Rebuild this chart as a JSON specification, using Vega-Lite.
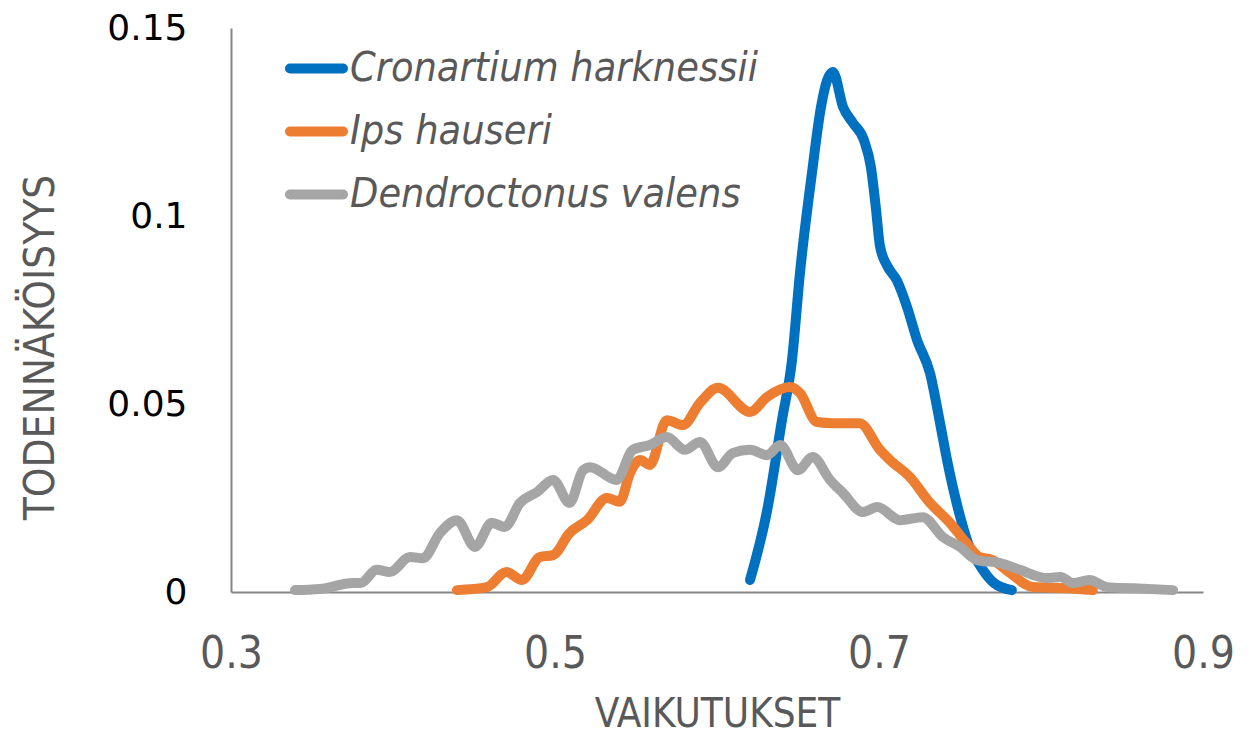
{
  "$schema": "https://vega.github.io/schema/vega-lite/v6.json",
  "autosize": {"type": "none"},
  "width": 972,
  "height": 564,
  "padding": {"left": 231, "top": 28, "right": 53, "bottom": 142},
  "background": "white",
  "config": {"view": {"stroke": null}},
  "data": {"values": [
    {"s": "Cronartium harknessii", "x": 0.6204, "y": 0.0032},
    {"s": "Cronartium harknessii", "x": 0.631, "y": 0.0218},
    {"s": "Cronartium harknessii", "x": 0.6401, "y": 0.0457},
    {"s": "Cronartium harknessii", "x": 0.6463, "y": 0.0617},
    {"s": "Cronartium harknessii", "x": 0.6512, "y": 0.0848},
    {"s": "Cronartium harknessii", "x": 0.6586, "y": 0.1114},
    {"s": "Cronartium harknessii", "x": 0.6642, "y": 0.129},
    {"s": "Cronartium harknessii", "x": 0.6679, "y": 0.136},
    {"s": "Cronartium harknessii", "x": 0.6716, "y": 0.1383},
    {"s": "Cronartium harknessii", "x": 0.6778, "y": 0.129},
    {"s": "Cronartium harknessii", "x": 0.684, "y": 0.1247},
    {"s": "Cronartium harknessii", "x": 0.6907, "y": 0.1202},
    {"s": "Cronartium harknessii", "x": 0.695, "y": 0.113},
    {"s": "Cronartium harknessii", "x": 0.698, "y": 0.1024},
    {"s": "Cronartium harknessii", "x": 0.7006, "y": 0.092},
    {"s": "Cronartium harknessii", "x": 0.705, "y": 0.0868},
    {"s": "Cronartium harknessii", "x": 0.7111, "y": 0.0828},
    {"s": "Cronartium harknessii", "x": 0.7173, "y": 0.0758},
    {"s": "Cronartium harknessii", "x": 0.7235, "y": 0.067},
    {"s": "Cronartium harknessii", "x": 0.7315, "y": 0.0582},
    {"s": "Cronartium harknessii", "x": 0.7377, "y": 0.0449},
    {"s": "Cronartium harknessii", "x": 0.742, "y": 0.0351},
    {"s": "Cronartium harknessii", "x": 0.749, "y": 0.0218},
    {"s": "Cronartium harknessii", "x": 0.755, "y": 0.013},
    {"s": "Cronartium harknessii", "x": 0.763, "y": 0.0066},
    {"s": "Cronartium harknessii", "x": 0.771, "y": 0.0024},
    {"s": "Cronartium harknessii", "x": 0.782, "y": 0.0005},

    {"s": "Ips hauseri", "x": 0.4395, "y": 0.0005},
    {"s": "Ips hauseri", "x": 0.458, "y": 0.0013},
    {"s": "Ips hauseri", "x": 0.470, "y": 0.0053},
    {"s": "Ips hauseri", "x": 0.4796, "y": 0.0032},
    {"s": "Ips hauseri", "x": 0.4907, "y": 0.0093},
    {"s": "Ips hauseri", "x": 0.4988, "y": 0.0098},
    {"s": "Ips hauseri", "x": 0.509, "y": 0.0157},
    {"s": "Ips hauseri", "x": 0.5198, "y": 0.0191},
    {"s": "Ips hauseri", "x": 0.532, "y": 0.025},
    {"s": "Ips hauseri", "x": 0.540, "y": 0.024},
    {"s": "Ips hauseri", "x": 0.5463, "y": 0.0316},
    {"s": "Ips hauseri", "x": 0.5525, "y": 0.0351},
    {"s": "Ips hauseri", "x": 0.5586, "y": 0.0338},
    {"s": "Ips hauseri", "x": 0.569, "y": 0.0457},
    {"s": "Ips hauseri", "x": 0.579, "y": 0.0444},
    {"s": "Ips hauseri", "x": 0.5895, "y": 0.0503},
    {"s": "Ips hauseri", "x": 0.6006, "y": 0.0543},
    {"s": "Ips hauseri", "x": 0.6204, "y": 0.0479},
    {"s": "Ips hauseri", "x": 0.631, "y": 0.0519},
    {"s": "Ips hauseri", "x": 0.645, "y": 0.0545},
    {"s": "Ips hauseri", "x": 0.6512, "y": 0.0529},
    {"s": "Ips hauseri", "x": 0.6617, "y": 0.0452},
    {"s": "Ips hauseri", "x": 0.6716, "y": 0.0449},
    {"s": "Ips hauseri", "x": 0.688, "y": 0.0449},
    {"s": "Ips hauseri", "x": 0.7006, "y": 0.0378},
    {"s": "Ips hauseri", "x": 0.7068, "y": 0.0351},
    {"s": "Ips hauseri", "x": 0.719, "y": 0.0306},
    {"s": "Ips hauseri", "x": 0.7315, "y": 0.0237},
    {"s": "Ips hauseri", "x": 0.7438, "y": 0.0184},
    {"s": "Ips hauseri", "x": 0.754, "y": 0.013},
    {"s": "Ips hauseri", "x": 0.762, "y": 0.0093},
    {"s": "Ips hauseri", "x": 0.770, "y": 0.0085},
    {"s": "Ips hauseri", "x": 0.781, "y": 0.005},
    {"s": "Ips hauseri", "x": 0.795, "y": 0.0013},
    {"s": "Ips hauseri", "x": 0.816, "y": 0.001},
    {"s": "Ips hauseri", "x": 0.832, "y": 0.0005},

    {"s": "Dendroctonus valens", "x": 0.3395, "y": 0.0005},
    {"s": "Dendroctonus valens", "x": 0.355, "y": 0.0008},
    {"s": "Dendroctonus valens", "x": 0.3753, "y": 0.0024},
    {"s": "Dendroctonus valens", "x": 0.380, "y": 0.0024},
    {"s": "Dendroctonus valens", "x": 0.390, "y": 0.0059},
    {"s": "Dendroctonus valens", "x": 0.398, "y": 0.0053},
    {"s": "Dendroctonus valens", "x": 0.4105, "y": 0.0093},
    {"s": "Dendroctonus valens", "x": 0.4185, "y": 0.009},
    {"s": "Dendroctonus valens", "x": 0.429, "y": 0.0157},
    {"s": "Dendroctonus valens", "x": 0.4395, "y": 0.0191},
    {"s": "Dendroctonus valens", "x": 0.4506, "y": 0.012},
    {"s": "Dendroctonus valens", "x": 0.461, "y": 0.0184},
    {"s": "Dendroctonus valens", "x": 0.469, "y": 0.0173},
    {"s": "Dendroctonus valens", "x": 0.4784, "y": 0.0237},
    {"s": "Dendroctonus valens", "x": 0.489, "y": 0.0266},
    {"s": "Dendroctonus valens", "x": 0.4988, "y": 0.0298},
    {"s": "Dendroctonus valens", "x": 0.509, "y": 0.0237},
    {"s": "Dendroctonus valens", "x": 0.5173, "y": 0.0324},
    {"s": "Dendroctonus valens", "x": 0.5216, "y": 0.0332},
    {"s": "Dendroctonus valens", "x": 0.538, "y": 0.0298},
    {"s": "Dendroctonus valens", "x": 0.548, "y": 0.0378},
    {"s": "Dendroctonus valens", "x": 0.5586, "y": 0.0391},
    {"s": "Dendroctonus valens", "x": 0.569, "y": 0.0412},
    {"s": "Dendroctonus valens", "x": 0.5802, "y": 0.0378},
    {"s": "Dendroctonus valens", "x": 0.5895, "y": 0.0399},
    {"s": "Dendroctonus valens", "x": 0.6006, "y": 0.0332},
    {"s": "Dendroctonus valens", "x": 0.6099, "y": 0.037},
    {"s": "Dendroctonus valens", "x": 0.6204, "y": 0.0378},
    {"s": "Dendroctonus valens", "x": 0.631, "y": 0.0364},
    {"s": "Dendroctonus valens", "x": 0.639, "y": 0.0391},
    {"s": "Dendroctonus valens", "x": 0.650, "y": 0.0324},
    {"s": "Dendroctonus valens", "x": 0.659, "y": 0.0359},
    {"s": "Dendroctonus valens", "x": 0.6698, "y": 0.0298},
    {"s": "Dendroctonus valens", "x": 0.6778, "y": 0.0263},
    {"s": "Dendroctonus valens", "x": 0.690, "y": 0.0213},
    {"s": "Dendroctonus valens", "x": 0.699, "y": 0.0226},
    {"s": "Dendroctonus valens", "x": 0.713, "y": 0.0191},
    {"s": "Dendroctonus valens", "x": 0.727, "y": 0.0199},
    {"s": "Dendroctonus valens", "x": 0.7395, "y": 0.0146},
    {"s": "Dendroctonus valens", "x": 0.750, "y": 0.012},
    {"s": "Dendroctonus valens", "x": 0.7605, "y": 0.0085},
    {"s": "Dendroctonus valens", "x": 0.7747, "y": 0.0077},
    {"s": "Dendroctonus valens", "x": 0.787, "y": 0.0059},
    {"s": "Dendroctonus valens", "x": 0.8037, "y": 0.0037},
    {"s": "Dendroctonus valens", "x": 0.812, "y": 0.004},
    {"s": "Dendroctonus valens", "x": 0.8198, "y": 0.0024},
    {"s": "Dendroctonus valens", "x": 0.830, "y": 0.0032},
    {"s": "Dendroctonus valens", "x": 0.8407, "y": 0.0013},
    {"s": "Dendroctonus valens", "x": 0.857, "y": 0.001},
    {"s": "Dendroctonus valens", "x": 0.8815, "y": 0.0005}
  ]},
  "mark": {"type": "line", "strokeWidth": 10, "strokeCap": "round", "strokeJoin": "round", "interpolate": "monotone"},
  "encoding": {
    "x": {
      "field": "x", "type": "quantitative",
      "scale": {"domain": [0.3, 0.9], "nice": false, "zero": false},
      "axis": {
        "title": "VAIKUTUKSET",
        "values": [0.3, 0.5, 0.7, 0.9],
        "format": ".1f",
        "grid": false, "ticks": false,
        "domainColor": "#868686", "domainWidth": 2,
        "labelFont": "Liberation Sans Narrow, DejaVu Sans Condensed, Roboto",
        "labelFontSize": 44, "labelColor": "#595959",
        "labelPadding": 40, "labelFlush": false, "labelOverlap": false,
        "titleFont": "Liberation Sans Narrow, DejaVu Sans Condensed, Roboto",
        "titleFontSize": 40, "titleFontWeight": "normal", "titleColor": "#595959",
        "titleBaseline": "alphabetic", "titleY": 134
      }
    },
    "y": {
      "field": "y", "type": "quantitative",
      "scale": {"domain": [0, 0.15], "nice": false},
      "axis": {
        "title": "TODENNÄKÖISYYS",
        "values": [0, 0.05, 0.1, 0.15],
        "format": ".2~f",
        "grid": false, "ticks": false,
        "domainColor": "#868686", "domainWidth": 2,
        "labelFont": "DejaVu Sans",
        "labelFontSize": 36, "labelColor": "#000000",
        "labelPadding": 44, "labelFlush": false, "labelOverlap": false,
        "titleFont": "Liberation Sans Narrow, DejaVu Sans Condensed, Roboto",
        "titleFontSize": 42, "titleFontWeight": "normal", "titleColor": "#595959",
        "titleBaseline": "middle", "titleAngle": -90, "titleX": -191, "titleY": 319
      }
    },
    "color": {
      "field": "s", "type": "nominal",
      "scale": {"domain": ["Cronartium harknessii", "Ips hauseri", "Dendroctonus valens"], "range": ["#0070C0", "#ED7D31", "#A5A5A5"]},
      "legend": {
        "title": null,
        "orient": "none", "legendX": 54, "legendY": 9,
        "padding": 0,
        "symbolType": "stroke", "symbolStrokeWidth": 10, "symbolSize": 2809,
        "labelFont": "Liberation Sans Narrow, DejaVu Sans Condensed, Roboto",
        "labelFontSize": 41, "labelFontStyle": "italic", "labelColor": "#595959",
        "labelOffset": 2, "rowPadding": 11, "labelLimit": 600,
        "encode": {"symbols": {"update": {"strokeCap": {"value": "round"}}}}
      }
    }
  }
}
